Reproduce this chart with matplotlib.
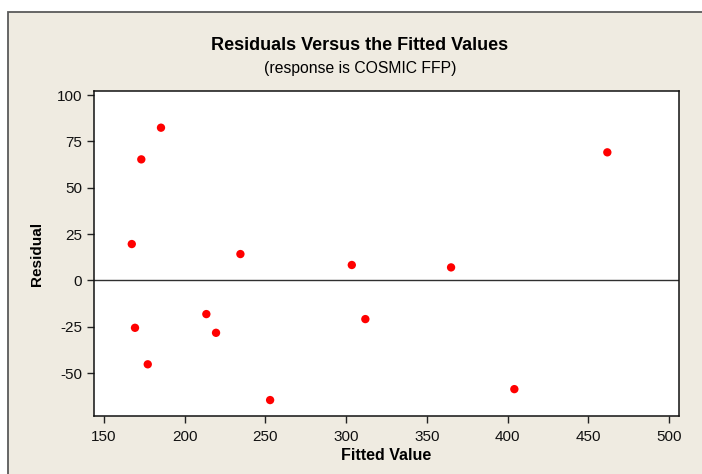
import matplotlib
matplotlib.use("Agg")
import matplotlib.pyplot as plt
from matplotlib.patches import Rectangle

# values
fitted = [167.2, 173.1, 185.3, 234.5, 169.2, 177.1, 213.4, 219.4, 252.9,
          303.5, 365.0, 311.9, 404.2, 461.8]
residual = [19.6, 65.3, 82.4, 14.2, -25.6, -45.3, -18.2, -28.3, -64.6,
            8.3, 7.0, -20.9, -58.7, 69.1]
xticks = [150, 200, 250, 300, 350, 400, 450, 500]
yticks = [-50, -25, 0, 25, 50, 75, 100]

plt.rcParams['font.family'] = ['Liberation Sans', 'DejaVu Sans']
plt.rcParams['axes.unicode_minus'] = False

W, H = 702, 474
fig = plt.figure(figsize=(W / 100, H / 100), dpi=100, facecolor='white')

# beige outer frame
frame = Rectangle((8 / W, -0.05), 1.1, 1 - 12 / H + 0.05, transform=fig.transFigure,
                  facecolor='#EFEBE1', edgecolor='#5a5a5a', linewidth=1.3, zorder=-5)
fig.patches.append(frame)

ax = fig.add_axes([94 / W, 1 - 416 / H, (679 - 94) / W, (416 - 91) / H])
ax.set_zorder(2)
ax.set_facecolor('white')
ax.scatter(fitted, residual, s=36, color='#FF0000', edgecolors='none', zorder=3)
ax.axhline(0, color='#303030', linewidth=1.0, zorder=2)

ax.set_xlim(143.8, 506.2)
ax.set_ylim(-73.2, 102.2)
ax.set_xticks(xticks)
ax.set_yticks(yticks)
ax.tick_params(labelsize=11, length=5, width=1, color='#222222', labelcolor='#111111')
ax.tick_params(axis='x', pad=5)
for s in ax.spines.values():
    s.set_linewidth(1.1)
    s.set_color('#111111')

ax.set_xlabel('Fitted Value', fontsize=11.5, fontweight='bold', labelpad=3)
ax.set_ylabel('Residual', fontsize=11, fontweight='bold', labelpad=9)

fig.text(360 / W, 1 - 45 / H, 'Residuals Versus the Fitted Values', ha='center', va='center',
         fontsize=13, fontweight='bold', zorder=3)
fig.text(360 / W, 1 - 69 / H, '(response is COSMIC FFP)', ha='center', va='center',
         fontsize=11.3, zorder=3)

fig.savefig('out.png', dpi=100, facecolor=fig.get_facecolor())
